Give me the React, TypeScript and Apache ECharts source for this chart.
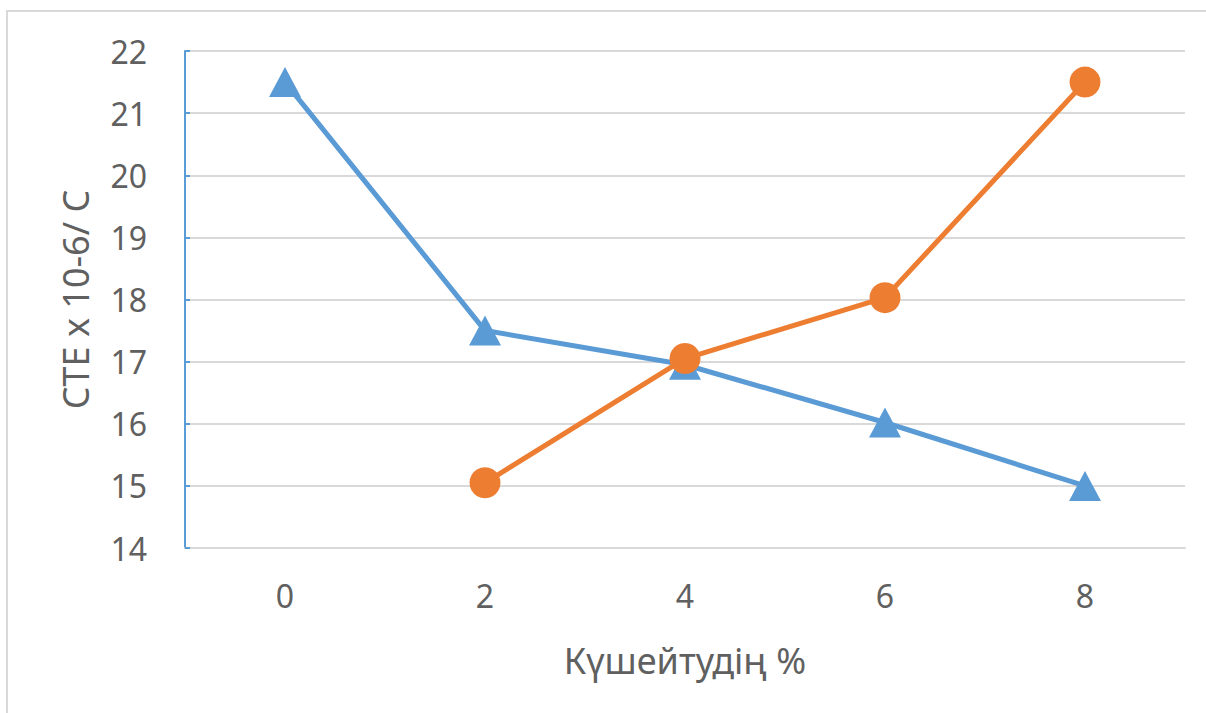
import React, { useEffect, useRef } from "react";
import * as echarts from "echarts";

const categories = ["0", "2", "4", "6", "8"];
const blueSeries = [21.5, 17.5, 16.95, 16.02, 15.0];
const orangeSeries = [null, 15.05, 17.05, 18.03, 21.5];
const yTicks = { min: 14, max: 22, interval: 1 };
const xTitle = "Күшейтудің %";
const yTitle = "CTE x 10-6/ C";

export default function App() {
  const ref = useRef<HTMLDivElement>(null);
  useEffect(() => {
    if (!ref.current) return;
    const chart = echarts.init(ref.current, null, { renderer: "svg" });
    const font = "'Noto Sans', sans-serif";
    const textColor = "#606060";
    chart.setOption({
      animation: false,
      backgroundColor: "#ffffff",
      graphic: [
        {
          type: "rect",
          shape: { x: 7, y: 11, width: 1230, height: 740 },
          style: { fill: "none", stroke: "#d9d9d9", lineWidth: 2 },
          silent: true,
        },
      ],
      grid: { left: 185, right: 21, top: 51, bottom: 165, containLabel: false },
      xAxis: {
        type: "category",
        data: categories,
        boundaryGap: true,
        name: xTitle,
        nameLocation: "middle",
        nameGap: 94,
        nameTextStyle: { color: textColor, fontSize: 36, fontFamily: font },
        axisLine: { lineStyle: { color: "#d9d9d9", width: 2 } },
        axisTick: { show: false },
        axisLabel: { color: textColor, fontSize: 32, fontFamily: font, margin: 31 },
        splitLine: { show: false },
      },
      yAxis: {
        type: "value",
        min: yTicks.min,
        max: yTicks.max,
        interval: yTicks.interval,
        name: yTitle,
        nameLocation: "middle",
        nameGap: 92,
        nameRotate: 90,
        nameTextStyle: { color: textColor, fontSize: 36, fontFamily: font },
        axisLine: { show: true, lineStyle: { color: "#5B9BD5", width: 2 } },
        axisTick: { show: true, inside: true, length: 5, lineStyle: { color: "#5B9BD5", width: 2 } },
        axisLabel: { color: textColor, fontSize: 32, fontFamily: font, margin: 38 },
        splitLine: { lineStyle: { color: "#d9d9d9", width: 2 } },
      },
      series: [
        {
          type: "line",
          data: blueSeries,
          symbol: "triangle",
          symbolSize: [32, 30],
          lineStyle: { color: "#5B9BD5", width: 5 },
          itemStyle: { color: "#5B9BD5" },
          z: 2,
        },
        {
          type: "line",
          data: orangeSeries,
          symbol: "circle",
          symbolSize: 31,
          connectNulls: false,
          lineStyle: { color: "#ED7D31", width: 5 },
          itemStyle: { color: "#ED7D31" },
          z: 3,
        },
      ],
    });
    return () => chart.dispose();
  }, []);
  return (
    <div
      ref={ref}
      style={{ position: "fixed", left: 0, top: 0, width: 1206, height: 713 }}
    />
  );
}
